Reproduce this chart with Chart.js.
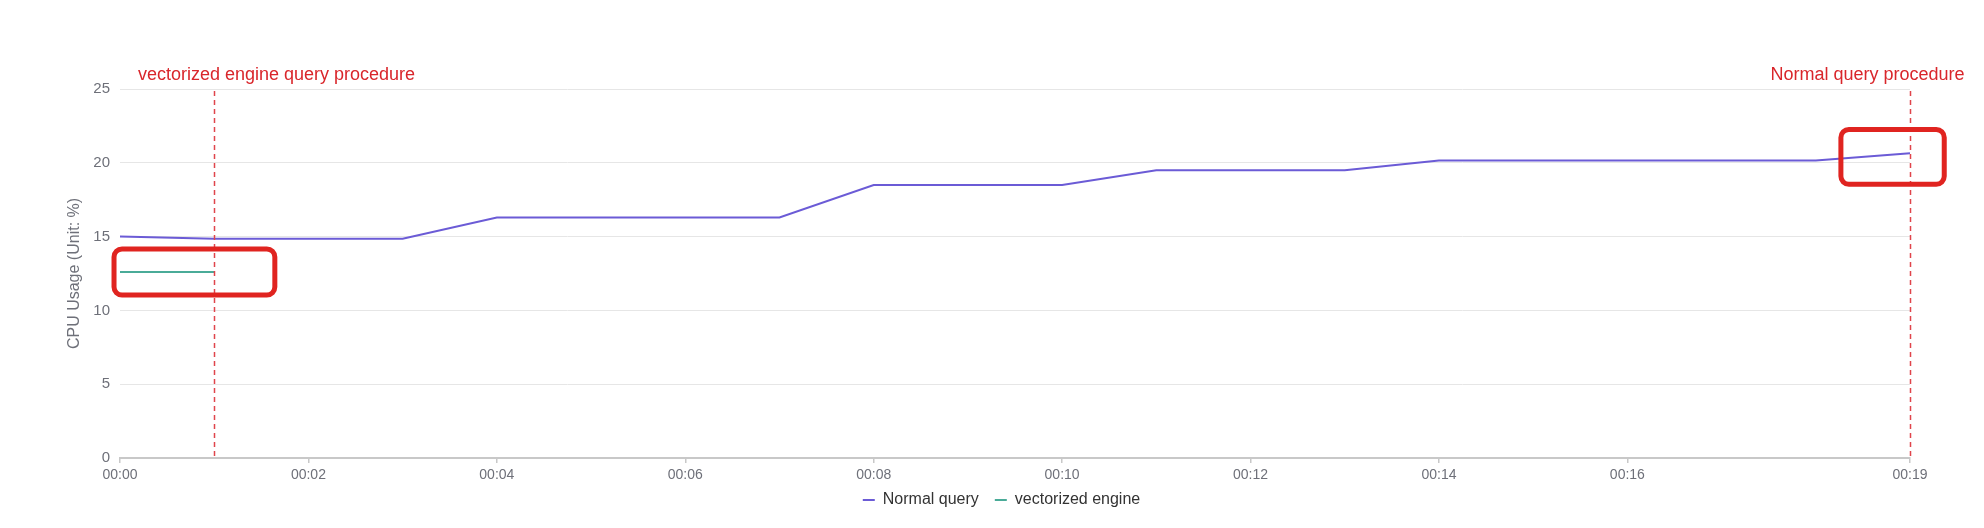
<!DOCTYPE html>
<html lang="en">
<head>
    <meta charset="UTF-8" />
    <title>CPU Usage</title>
    <script src="https://cdn.jsdelivr.net/npm/chart.js"></script>
    <style>
        html, body { margin: 0; padding: 0; background: #fff; }
        #wrap { width: 1984px; height: 528px; }
    </style>
</head>
<body>
    <div id="wrap"><canvas id="cpuChart"></canvas></div>
    <script>
        // minutes on the x axis
        const timeLabels = ['00:00', '00:01', '00:02', '00:03', '00:04', '00:05', '00:06', '00:07', '00:08', '00:09',
            '00:10', '00:11', '00:12', '00:13', '00:14', '00:15', '00:16', '00:17', '00:18', '00:19'];
        const shownTicks = ['00:00', '00:02', '00:04', '00:06', '00:08', '00:10', '00:12', '00:14', '00:16', '00:19'];

        const normalQuery = [15.0, 14.85, 14.85, 14.85, 16.3, 16.3, 16.3, 16.3, 18.5, 18.5,
            18.5, 19.5, 19.5, 19.5, 20.15, 20.15, 20.15, 20.15, 20.15, 20.65];
        const vectorizedEngine = [12.6, 12.6];

        // annotations (data units)
        const markLines = ['00:01', '00:19'];
        const markTexts = ['vectorized engine query procedure', 'Normal query procedure'];
        const boxXMin = [-0.09, 18.24];
        const boxXMax = [1.67, 19.39];
        const boxYMin = [10.87, 18.37];
        const boxYMax = [14.33, 22.43];

        const annotationPlugin = {
            id: 'marks',
            afterDatasetsDraw(chart) {
                const { ctx, chartArea, scales: { x, y } } = chart;
                const textOffsets = [62, -43];
                ctx.save();
                // dashed vertical lines + labels
                markLines.forEach((lbl, i) => {
                    const px = Math.round(x.getPixelForValue(timeLabels.indexOf(lbl))) + 0.5;
                    ctx.strokeStyle = '#e0454b';
                    ctx.lineWidth = 1.5;
                    ctx.setLineDash([5, 4]);
                    ctx.beginPath();
                    ctx.moveTo(px, chartArea.top + 2);
                    ctx.lineTo(px, chartArea.bottom);
                    ctx.stroke();
                    ctx.setLineDash([]);
                    ctx.fillStyle = '#d9262b';
                    ctx.font = '18px "Liberation Sans", Arial, sans-serif';
                    ctx.textAlign = 'center';
                    ctx.textBaseline = 'middle';
                    ctx.fillText(markTexts[i], px + textOffsets[i], chartArea.top - 14);
                });
                // rounded red boxes
                boxXMin.forEach((_, i) => {
                    const x0 = x.getPixelForValue(boxXMin[i]);
                    const x1 = x.getPixelForValue(boxXMax[i]);
                    const y0 = y.getPixelForValue(boxYMax[i]);
                    const y1 = y.getPixelForValue(boxYMin[i]);
                    ctx.strokeStyle = '#e02420';
                    ctx.lineWidth = 5;
                    ctx.beginPath();
                    ctx.roundRect(x0 + 2.5, y0 + 2.5, x1 - x0 - 5, y1 - y0 - 5, 8);
                    ctx.stroke();
                });
                ctx.restore();
            }
        };

        // nudge the legend a little up and right, like the original
        const legendShift = {
            id: 'legendShift',
            afterLayout(chart) {
                const lg = chart.legend;
                if (!lg) return;
                lg.top -= 10; lg.bottom -= 10;
                lg.left += 16; lg.right += 16;
            }
        };

        Chart.defaults.font.family = '"Liberation Sans", Arial, sans-serif';

        new Chart(document.getElementById('cpuChart'), {
            type: 'line',
            data: {
                labels: timeLabels,
                datasets: [{
                    label: 'Normal query',
                    data: normalQuery,
                    borderColor: '#6b5bd6',
                    backgroundColor: '#6b5bd6',
                    borderWidth: 2,
                    pointRadius: 0,
                    tension: 0
                }, {
                    label: 'vectorized engine',
                    data: vectorizedEngine,
                    borderColor: '#4aab98',
                    backgroundColor: '#4aab98',
                    borderWidth: 2,
                    pointRadius: 0,
                    tension: 0
                }]
            },
            options: {
                responsive: true,
                maintainAspectRatio: false,
                animation: false,
                layout: { padding: { left: 61, right: 74, top: 89, bottom: 0 } },
                plugins: {
                    tooltip: { enabled: false },
                    legend: {
                        position: 'bottom',
                        labels: {
                            color: '#333',
                            font: { size: 16 },
                            boxWidth: 12,
                            boxHeight: 2,
                            padding: 16,
                            generateLabels(chart) {
                                return Chart.defaults.plugins.legend.labels.generateLabels(chart).map(item => {
                                    item.lineWidth = 0;
                                    return item;
                                });
                            }
                        }
                    }
                },
                scales: {
                    x: {
                        offset: false,
                        grid: { display: true, drawOnChartArea: false, drawTicks: true, tickLength: 5, color: '#c8c8c8', lineWidth: 1.5 },
                        border: { display: true, color: '#c8c8c8', width: 2 },
                        ticks: {
                            color: '#6e7079',
                            font: { size: 14 },
                            maxRotation: 0,
                            autoSkip: false,
                            padding: 4,
                            callback(value) {
                                const lbl = timeLabels[value];
                                return shownTicks.includes(lbl) ? lbl : null;
                            }
                        },
                        afterFit(scale) { scale.height = 28; }
                    },
                    y: {
                        min: 0,
                        max: 25,
                        ticks: { stepSize: 5, color: '#6e7079', font: { size: 15 }, padding: 10 },
                        grid: { color: '#e6e6e6', drawTicks: false },
                        border: { display: false },
                        title: {
                            display: true,
                            text: 'CPU Usage (Unit: %)',
                            color: '#6e7079',
                            font: { size: 16 }
                        },
                        afterFit(scale) { scale.width = 59; }
                    }
                }
            },
            plugins: [annotationPlugin, legendShift]
        });
    </script>
</body>
</html>
